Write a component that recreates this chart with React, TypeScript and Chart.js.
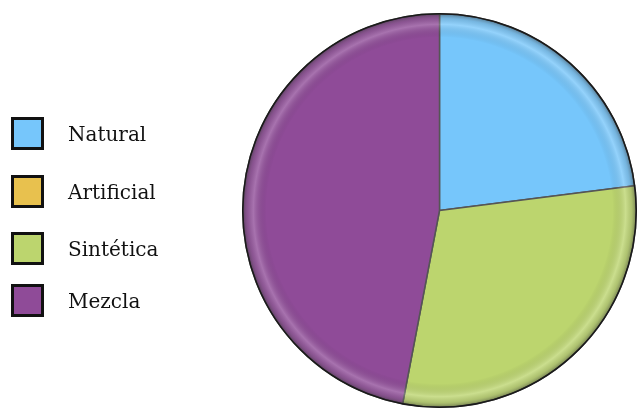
import React, { useEffect, useRef } from "react";
import { Chart, registerables } from "chart.js";

Chart.register(...registerables);

const categories = ["Natural", "Artificial", "Sintética", "Mezcla"];
const values = [23, 0, 30, 47];
const colors = ["#76C6FB", "#E8C14E", "#BCD56E", "#8F4B98"];

const bevelPlugin = {
  id: "bevel",
  afterDatasetsDraw(chart: any) {
    const meta = chart.getDatasetMeta(0);
    const ctx = chart.ctx as CanvasRenderingContext2D;
    let cx = 0, cy = 0, rr = 0;
    meta.data.forEach((arc: any) => {
      const { x, y, startAngle, endAngle, outerRadius } = arc.getProps(
        ["x", "y", "startAngle", "endAngle", "outerRadius"],
        true
      );
      cx = x; cy = y; rr = outerRadius;
      if (endAngle - startAngle <= 0) return;
      ctx.save();
      ctx.beginPath();
      ctx.moveTo(x, y);
      ctx.arc(x, y, outerRadius, startAngle, endAngle);
      ctx.closePath();
      ctx.clip();
      const g = ctx.createRadialGradient(x, y, outerRadius * 0.88, x, y, outerRadius);
      g.addColorStop(0, "rgba(0,0,0,0)");
      g.addColorStop(0.55, "rgba(255,255,255,0.22)");
      g.addColorStop(0.8, "rgba(120,120,120,0.2)");
      g.addColorStop(1, "rgba(40,40,40,0.5)");
      ctx.fillStyle = g;
      ctx.fillRect(x - outerRadius, y - outerRadius, outerRadius * 2, outerRadius * 2);
      ctx.restore();
    });
    ctx.save();
    ctx.beginPath();
    ctx.arc(cx, cy, rr, 0, Math.PI * 2);
    ctx.strokeStyle = "#1a1a1a";
    ctx.lineWidth = 1.5;
    ctx.stroke();
    ctx.restore();
  },
};

export default function App() {
  const ref = useRef<HTMLCanvasElement>(null);
  useEffect(() => {
    document.body.style.margin = "0";
    const chart = new Chart(ref.current!, {
      type: "pie",
      data: {
        labels: categories,
        datasets: [
          {
            data: values,
            backgroundColor: colors,
            borderColor: "#555555",
            borderWidth: 1.5,
          },
        ],
      },
      options: {
        responsive: false,
        animation: false,
        layout: { padding: { left: 242, right: 1, top: 13, bottom: 5 } },
        plugins: {
          legend: { display: false },
          tooltip: { enabled: false },
        },
      },
      plugins: [bevelPlugin],
    });
    return () => chart.destroy();
  }, []);

  const itemTops = [117, 175, 232, 284];
  return (
    <div style={{ position: "relative", width: 638, height: 413, background: "#fff" }}>
      <canvas ref={ref} width={638} height={413} style={{ position: "absolute", left: 0, top: 0 }} />
      {categories.map((c, i) => (
        <div
          key={c}
          style={{
            position: "absolute",
            left: 11,
            top: itemTops[i],
            height: 33,
            display: "flex",
            alignItems: "center",
            fontFamily: "'DejaVu Serif', serif",
            fontSize: 20,
            color: "#111",
          }}
        >
          <div
            style={{
              width: 27,
              height: 27,
              background: colors[i],
              border: "3px solid #111",
              marginRight: 24,
            }}
          />
          <span>{c}</span>
        </div>
      ))}
    </div>
  );
}
